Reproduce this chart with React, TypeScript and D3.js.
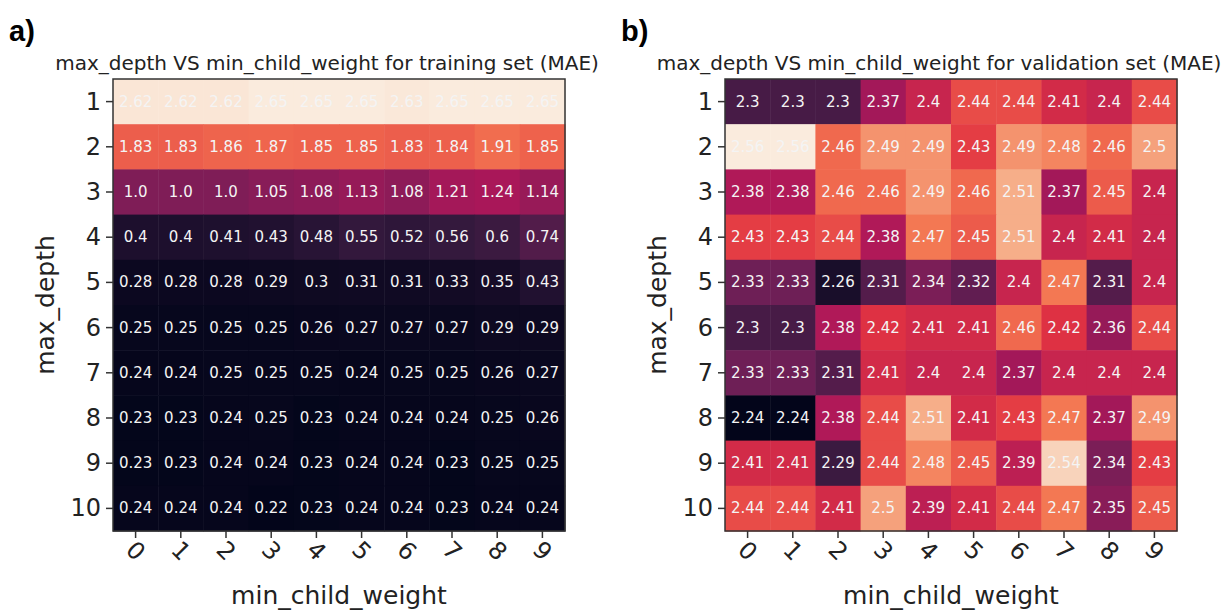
import React from 'react'
import * as d3 from 'd3'

// min_child_weight (columns) and max_depth (rows)
const minChildWeight = ['0', '1', '2', '3', '4', '5', '6', '7', '8', '9']
const maxDepth = ['1', '2', '3', '4', '5', '6', '7', '8', '9', '10']

// training set MAE, one row per max_depth
const trainMAE = [
  [2.62, 2.62, 2.62, 2.65, 2.65, 2.65, 2.63, 2.65, 2.65, 2.65],
  [1.83, 1.83, 1.86, 1.87, 1.85, 1.85, 1.83, 1.84, 1.91, 1.85],
  [1.0, 1.0, 1.0, 1.05, 1.08, 1.13, 1.08, 1.21, 1.24, 1.14],
  [0.4, 0.4, 0.41, 0.43, 0.48, 0.55, 0.52, 0.56, 0.6, 0.74],
  [0.28, 0.28, 0.28, 0.29, 0.3, 0.31, 0.31, 0.33, 0.35, 0.43],
  [0.25, 0.25, 0.25, 0.25, 0.26, 0.27, 0.27, 0.27, 0.29, 0.29],
  [0.24, 0.24, 0.25, 0.25, 0.25, 0.24, 0.25, 0.25, 0.26, 0.27],
  [0.23, 0.23, 0.24, 0.25, 0.23, 0.24, 0.24, 0.24, 0.25, 0.26],
  [0.23, 0.23, 0.24, 0.24, 0.23, 0.24, 0.24, 0.23, 0.25, 0.25],
  [0.24, 0.24, 0.24, 0.22, 0.23, 0.24, 0.24, 0.23, 0.24, 0.24]
]

// validation set MAE
const validMAE = [
  [2.3, 2.3, 2.3, 2.37, 2.4, 2.44, 2.44, 2.41, 2.4, 2.44],
  [2.56, 2.56, 2.46, 2.49, 2.49, 2.43, 2.49, 2.48, 2.46, 2.5],
  [2.38, 2.38, 2.46, 2.46, 2.49, 2.46, 2.51, 2.37, 2.45, 2.4],
  [2.43, 2.43, 2.44, 2.38, 2.47, 2.45, 2.51, 2.4, 2.41, 2.4],
  [2.33, 2.33, 2.26, 2.31, 2.34, 2.32, 2.4, 2.47, 2.31, 2.4],
  [2.3, 2.3, 2.38, 2.42, 2.41, 2.41, 2.46, 2.42, 2.36, 2.44],
  [2.33, 2.33, 2.31, 2.41, 2.4, 2.4, 2.37, 2.4, 2.4, 2.4],
  [2.24, 2.24, 2.38, 2.44, 2.51, 2.41, 2.43, 2.47, 2.37, 2.49],
  [2.41, 2.41, 2.29, 2.44, 2.48, 2.45, 2.39, 2.54, 2.34, 2.43],
  [2.44, 2.44, 2.41, 2.5, 2.39, 2.41, 2.44, 2.47, 2.35, 2.45]
]

// seaborn "rocket" sampled at even steps
const rocket = ['#03051a', '#35193e', '#701f57', '#ad1759', '#e13342', '#f37651', '#f6b48f', '#faebdd']

const font = 'DejaVu Sans, sans-serif'
const fmt = (v: number) => (Number.isInteger(v) ? v.toFixed(1) : String(v))

const Heatmap = ({ data, left, title, tag }: { data: number[][]; left: number; title: string; tag: string }) => {
  const top = 79
  const size = 452
  const x = d3.scaleBand().domain(minChildWeight).range([left, left + size])
  const y = d3.scaleBand().domain(maxDepth).range([top, top + size])
  const flat = data.flat()
  const [lo, hi] = d3.extent(flat) as [number, number]
  const color = d3
    .scaleLinear<string>()
    .domain(rocket.map((_, i) => lo + (i * (hi - lo)) / (rocket.length - 1)))
    .range(rocket)
    .interpolate(d3.interpolateRgb)
    .clamp(true)

  return (
    <g>
      <text x={left - 104} y={41} fontFamily='Liberation Sans, Arial, sans-serif' fontWeight='bold' fontSize={29}>
        {tag}
      </text>
      <text x={left + size / 2 - 12} y={70} textAnchor='middle' fontFamily={font} fontSize={20} fill='#222'>
        {title}
      </text>
      {data.map((row, r) =>
        row.map((v, c) => (
          <g key={`${r}-${c}`}>
            <rect
              x={x(minChildWeight[c])}
              y={y(maxDepth[r])}
              width={x.bandwidth() + 0.5}
              height={y.bandwidth() + 0.5}
              fill={color(v)}
            />
            <text
              x={x(minChildWeight[c])! + x.bandwidth() / 2}
              y={y(maxDepth[r])! + y.bandwidth() / 2}
              textAnchor='middle'
              dominantBaseline='central'
              fontFamily={font}
              fontSize={15}
              fill='#f4f4f4'
            >
              {fmt(v)}
            </text>
          </g>
        ))
      )}
      <rect x={left} y={top} width={size} height={size} fill='none' stroke='#333' strokeWidth={1.5} />
      {maxDepth.map(d => (
        <g key={d}>
          <line x1={left - 7} x2={left} y1={y(d)! + y.bandwidth() / 2} y2={y(d)! + y.bandwidth() / 2} stroke='#333' strokeWidth={1.5} />
          <text
            x={left - 12}
            y={y(d)! + y.bandwidth() / 2}
            textAnchor='end'
            dominantBaseline='central'
            fontFamily={font}
            fontSize={24}
            fill='#222'
          >
            {d}
          </text>
        </g>
      ))}
      {minChildWeight.map(d => {
        const cx = x(d)! + x.bandwidth() / 2
        return (
          <g key={d}>
            <line x1={cx} x2={cx} y1={top + size} y2={top + size + 7} stroke='#333' strokeWidth={1.5} />
            <text
              transform={`translate(${cx},${top + size + 20}) rotate(45)`}
              textAnchor='middle'
              dominantBaseline='central'
              fontFamily={font}
              fontSize={24}
              fill='#222'
            >
              {d}
            </text>
          </g>
        )
      })}
      <text x={left + size / 2} y={604} textAnchor='middle' fontFamily={font} fontSize={25} fill='#222'>
        min_child_weight
      </text>
      <text
        transform={`translate(${left - 68},${top + size / 2}) rotate(-90)`}
        textAnchor='middle'
        dominantBaseline='central'
        fontFamily={font}
        fontSize={25}
        fill='#222'
      >
        max_depth
      </text>
    </g>
  )
}

export default function App() {
  return (
    <svg width={1228} height={613} style={{ position: 'absolute', left: 0, top: 0, background: '#fff' }}>
      <rect width={1228} height={613} fill='#fff' />
      <Heatmap data={trainMAE} left={113} title='max_depth VS min_child_weight for training set (MAE)' tag='a)' />
      <Heatmap data={validMAE} left={725} title='max_depth VS min_child_weight for validation set (MAE)' tag='b)' />
    </svg>
  )
}
